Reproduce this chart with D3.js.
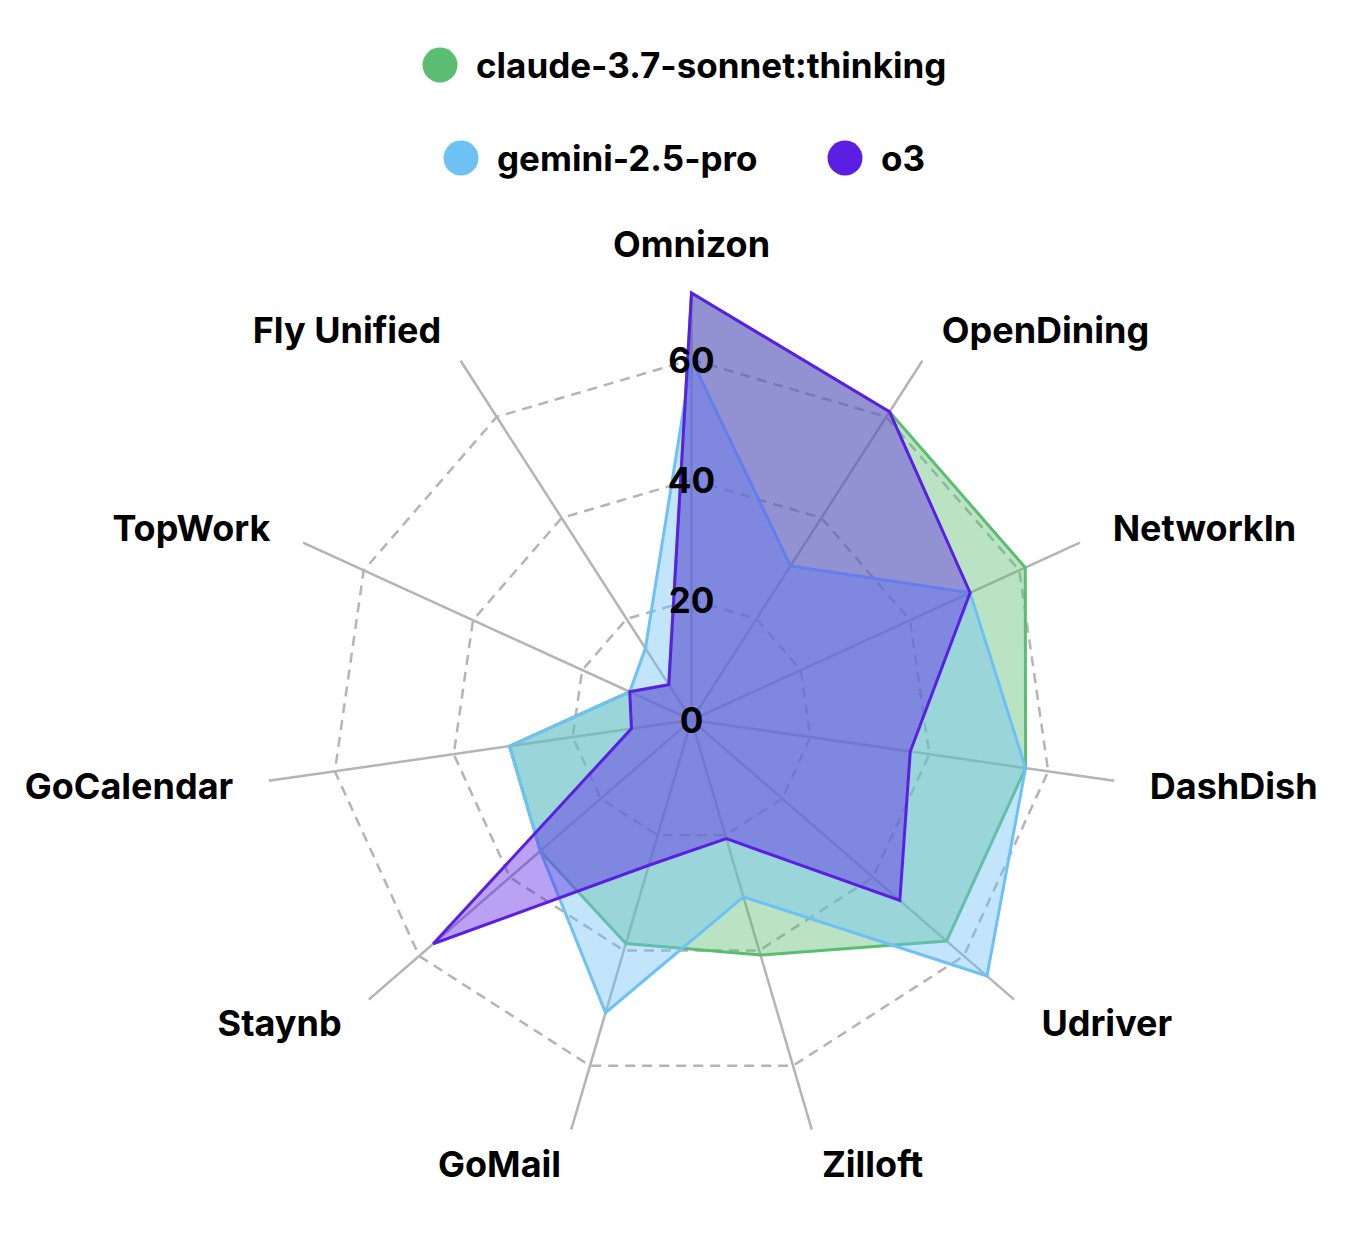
<!doctype html>
<html lang="en">
<head>
<meta charset="utf-8">
<title>Radar</title>
<script src="https://cdn.jsdelivr.net/npm/d3@7"></script>
<style>
  body { margin: 0; background: #fff; }
  text { font-family: Inter, "Noto Sans", sans-serif; font-weight: 700; fill: #000; }
</style>
</head>
<body>
<script>
// sites, clockwise from the top
var sites = ["Omnizon", "OpenDining", "NetworkIn", "DashDish", "Udriver", "Zilloft",
             "GoMail", "Staynb", "GoCalendar", "TopWork", "Fly Unified"];

var claude = [71.1, 61.0, 61.1, 56.2, 56.2, 40.8, 38.8, 33.3, 30.6, 11.3, 7.0];
var gemini = [60.0, 30.5, 51.0, 56.2, 65.1, 30.7, 50.8, 33.3, 30.6, 11.3, 14.2];
var o3     = [71.1, 61.0, 51.0, 36.8, 45.9, 20.6, 25.2, 56.9, 10.1, 11.3, 7.0];

var seriesNames = ["claude-3.7-sonnet:thinking", "gemini-2.5-pro", "o3"];
var tickValues = [0, 20, 40, 60];

var W = 1354, H = 1242;
var cx = 691.5, cy = 720;
var colors = {"claude-3.7-sonnet:thinking": "#5bbd72", "gemini-2.5-pro": "#6ec1f5", "o3": "#5b1fe4"};

var series = [
    {name: seriesNames[0], values: claude},
    {name: seriesNames[1], values: gemini},
    {name: seriesNames[2], values: o3}
];

var maxVal = d3.max(series, s => d3.max(s.values));
var rScale = d3.scaleLinear().domain([0, maxVal]).range([0, 427]);
var aScale = d3.scalePoint().domain(sites).range([0, 2 * Math.PI * (sites.length - 1) / sites.length]);

function pt(site, v) {
    var a = aScale(site), r = rScale(v);
    return [cx + r * Math.sin(a), cy - r * Math.cos(a)];
}

var svg = d3.select("body").append("svg")
    .attr("width", W)
    .attr("height", H);

// dashed rings
var rings = svg.append("g");
tickValues.filter(t => t > 0).forEach(function(t) {
    rings.append("polygon")
        .attr("points", sites.map(s => pt(s, t).join(",")).join(" "))
        .attr("fill", "none")
        .attr("stroke", "#b4b4b4")
        .attr("stroke-width", 2.5)
        .attr("stroke-dasharray", "10,7");
});

// spokes
svg.append("g").selectAll("line")
    .data(sites)
    .enter()
    .append("line")
    .attr("x1", cx)
    .attr("y1", cy)
    .attr("x2", d => pt(d, maxVal)[0])
    .attr("y2", d => pt(d, maxVal)[1])
    .attr("stroke", "#b4b4b4")
    .attr("stroke-width", 2.5);

// areas
var line = d3.lineRadial()
    .angle((d, i) => aScale(sites[i]))
    .radius(d => rScale(d))
    .curve(d3.curveLinearClosed);

svg.append("g")
    .attr("transform", "translate(" + cx + "," + cy + ")")
    .selectAll("path")
    .data(series)
    .enter()
    .append("path")
    .attr("d", d => line(d.values))
    .attr("fill", d => colors[d.name])
    .attr("fill-opacity", 0.42)
    .attr("stroke", d => colors[d.name])
    .attr("stroke-width", 3)
    .attr("stroke-linejoin", "miter");

// axis labels
svg.append("g").selectAll("text")
    .data(sites)
    .enter()
    .append("text")
    .attr("x", d => pt(d, maxVal * 463 / 427)[0])
    .attr("y", d => pt(d, maxVal * 463 / 427)[1])
    .attr("text-anchor", function(d) {
        var s = Math.sin(aScale(d));
        return s > 0.1 ? "start" : (s < -0.1 ? "end" : "middle");
    })
    .attr("dominant-baseline", d => aScale(d) === 0 ? "alphabetic" : "central")
    .style("font-size", "36px")
    .text(d => d);

// radius ticks
svg.append("g").selectAll("text")
    .data(tickValues)
    .enter()
    .append("text")
    .attr("x", cx)
    .attr("y", d => cy - rScale(d))
    .attr("text-anchor", "middle")
    .attr("dominant-baseline", "central")
    .style("font-size", "35px")
    .text(d => d);

// legend
var legendRows = [
    [{name: seriesNames[0], x: 440, y: 65}],
    [{name: seriesNames[1], x: 461, y: 158}, {name: seriesNames[2], x: 845, y: 158}]
];
var legend = svg.append("g");
legendRows.forEach(function(row) {
    row.forEach(function(item) {
        legend.append("circle")
            .attr("cx", item.x)
            .attr("cy", item.y)
            .attr("r", 17.5)
            .attr("fill", colors[item.name]);
        legend.append("text")
            .attr("x", item.x + 36)
            .attr("y", item.y)
            .attr("dominant-baseline", "central")
            .style("font-size", "35px")
            .text(item.name);
    });
});
</script>
</body>
</html>
